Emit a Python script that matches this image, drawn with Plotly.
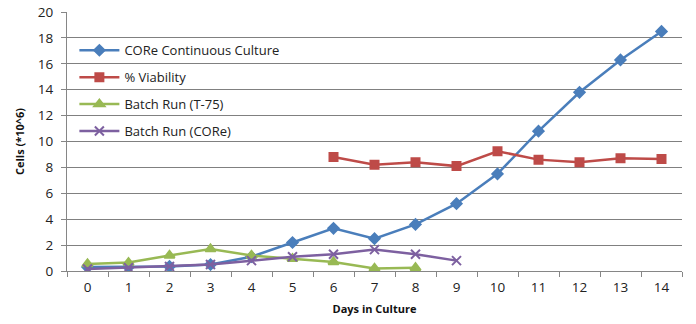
import plotly.graph_objects as go

days = [str(d) for d in range(15)]
core_days = list(range(15))
core_vals = [0.3, 0.3, 0.35, 0.5, 1.1, 2.2, 3.3, 2.5, 3.6, 5.2, 7.5, 10.8, 13.8, 16.3, 18.5]
via_days = [6, 7, 8, 9, 10, 11, 12, 13, 14]
via_vals = [8.8, 8.2, 8.4, 8.1, 9.25, 8.6, 8.4, 8.7, 8.65]
t75_days = [0, 1, 2, 3, 4, 5, 6, 7, 8]
t75_vals = [0.55, 0.65, 1.2, 1.7, 1.2, 0.95, 0.7, 0.2, 0.25]
bcore_days = [0, 1, 2, 3, 4, 5, 6, 7, 8, 9]
bcore_vals = [0.15, 0.25, 0.35, 0.5, 0.8, 1.1, 1.3, 1.65, 1.3, 0.8]

fig = go.Figure()
series = [
    ("CORe Continuous Culture", core_days, core_vals, "#4A7EBB", "diamond", 8),
    ("% Viability", via_days, via_vals, "#BE4B48", "square", 8),
    ("Batch Run (T-75)", t75_days, t75_vals, "#98B954", "triangle-up", 9),
    ("Batch Run (CORe)", bcore_days, bcore_vals, "#7D60A0", "x-thin", 9),
]
for name, xs, ys, col, sym, sz in series:
    fig.add_trace(go.Scatter(
        x=[str(v) for v in xs], y=ys, name=name, mode="lines+markers",
        line=dict(color=col, width=2.5),
        marker=dict(symbol=sym, size=sz, color=col, line=dict(color=col, width=2)),
        legendgroup=name,
    ))

fig.update_layout(
    width=696, height=324,
    margin=dict(l=67, r=14, t=12, b=53),
    paper_bgcolor="white", plot_bgcolor="white",
    font=dict(family="Open Sans", size=13, color="#222"),
    showlegend=True,
    legend=dict(x=0.012, y=0.91, xanchor="left", yanchor="top",
                bgcolor="rgba(0,0,0,0)", tracegroupgap=7,
                font=dict(size=13, color="#222"), itemwidth=40),
    xaxis=dict(type="category", categoryorder="array", categoryarray=days,
               tickvals=days, ticktext=days, tickson="boundaries",
               ticks="outside", ticklen=5, tickcolor="#868686",
               showline=True, linecolor="#868686", linewidth=1,
               showgrid=False, zeroline=False, ticklabelstandoff=4,
               tickfont=dict(size=13.5), automargin=False,
               title=dict(text="<b>Days in Culture</b>", font=dict(size=11, color="#111"), standoff=10),
               range=[-0.5, 14.5]),
    yaxis=dict(range=[0, 20], dtick=2, tick0=0,
               ticks="outside", ticklen=5, tickcolor="#868686",
               showline=True, linecolor="#868686", linewidth=1,
               showgrid=True, gridcolor="#808080", gridwidth=1,
               zeroline=False, ticklabelstandoff=5, automargin=False,
               tickfont=dict(size=13.5),
               title=dict(text="<b>Cells (*10^6)</b>", font=dict(size=11, color="#111"), standoff=10)),
)

fig.write_html("out.html")
